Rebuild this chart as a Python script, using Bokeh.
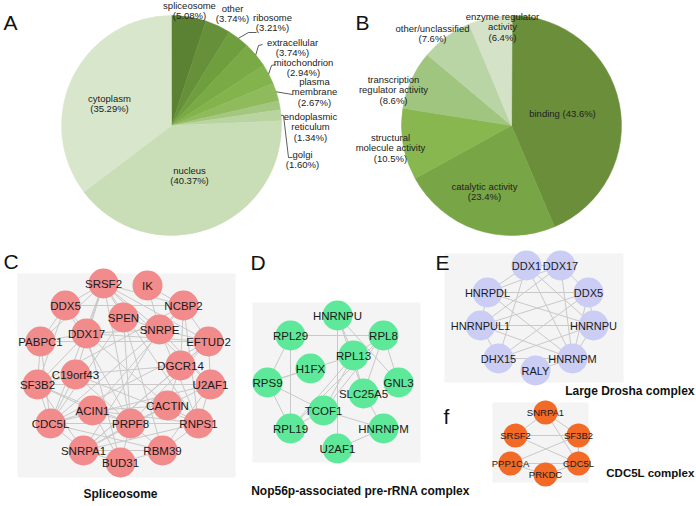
import numpy as np
from bokeh.plotting import figure
from bokeh.models import Range1d, ColumnDataSource
from bokeh.core.properties import value
from bokeh.embed import file_html
from bokeh.resources import INLINE

FONT = value("Liberation Sans")
W, H = 696, 506

# ---------------- data ----------------
# Panel A: cellular component
a_names = ["spliceosome", "other", "ribosome", "extracellular", "mitochondrion",
           "plasma membrane", "endoplasmic reticulum", "golgi", "nucleus", "cytoplasm"]
a_pct = [5.08, 3.74, 3.21, 3.74, 2.94, 2.67, 1.34, 1.60, 40.37, 35.29]
a_colors = ["#5b8233", "#66913a", "#6f9e3f", "#79aa45", "#83b34d", "#8fbb5c",
            "#a3c77f", "#b9d4a0", "#c9ddb6", "#d8e6cc"]
a_label_lines = [["spliceosome", "(5.08%)"], ["other", "(3.74%)"], ["ribosome", "(3.21%)"],
                 ["extracellular", "(3.74%)"], ["mitochondrion", "(2.94%)"],
                 ["plasma", "membrane", "(2.67%)"], ["endoplasmic", "reticulum", "(1.34%)"],
                 ["golgi", "(1.60%)"], ["nucleus", "(40.37%)"], ["cytoplasm", "(35.29%)"]]

# Panel B: molecular function
b_names = ["binding", "catalytic activity", "structural molecule activity",
           "transcription regulator activity", "other/unclassified", "enzyme regulator activity"]
b_pct = [43.6, 23.4, 10.5, 8.6, 7.6, 6.4]
b_colors = ["#6a8e3a", "#78a546", "#88b74f", "#a0c57f", "#bad5a5", "#d4e2c8"]
b_label_lines = [["binding (43.6%)"], ["catalytic activity", "(23.4%)"],
                 ["structural", "molecule activity", "(10.5%)"],
                 ["transcription", "regulator activity", "(8.6%)"],
                 ["other/unclassified", "(7.6%)"], ["enzyme regulator", "activity", "(6.4%)"]]

# Panel C: Spliceosome network (layout positions)
c_nodes = ["SRSF2", "IK", "DDX5", "NCBP2", "SPEN", "SNRPE", "DDX17", "PABPC1", "EFTUD2",
           "DGCR14", "C19orf43", "SF3B2", "U2AF1", "CACTIN", "ACIN1", "CDC5L", "PRPF8",
           "RNPS1", "SNRPA1", "RBM39", "BUD31"]
c_x = [103, 147, 65, 183, 123, 159, 86, 40, 208, 180, 75, 37, 210, 167, 92, 50, 130, 198, 83, 162, 120]
c_y = [283, 285, 305, 305, 317, 329, 333, 341, 341, 365, 374, 384, 384, 405, 410, 423, 423, 423, 450, 450, 462]
c_edges = [("SRSF2", "NCBP2"), ("SRSF2", "DDX5"), ("SRSF2", "SPEN"), ("SRSF2", "SNRPE"),
           ("SRSF2", "DDX17"), ("SRSF2", "PABPC1"), ("SRSF2", "C19orf43"), ("SRSF2", "PRPF8"),
           ("SRSF2", "RNPS1"), ("SRSF2", "U2AF1"), ("SRSF2", "EFTUD2"), ("SRSF2", "CDC5L"),
           ("IK", "NCBP2"), ("IK", "SNRPE"), ("DDX5", "NCBP2"), ("DDX5", "DDX17"),
           ("DDX5", "PABPC1"), ("DDX5", "SF3B2"), ("DDX5", "PRPF8"), ("NCBP2", "EFTUD2"),
           ("NCBP2", "SNRPE"), ("NCBP2", "DGCR14"), ("NCBP2", "SF3B2"), ("NCBP2", "ACIN1"),
           ("NCBP2", "RNPS1"), ("SPEN", "SNRPE"), ("SPEN", "PRPF8"), ("SPEN", "CDC5L"),
           ("SPEN", "RBM39"), ("SNRPE", "EFTUD2"), ("SNRPE", "DDX17"), ("SNRPE", "SNRPA1"),
           ("SNRPE", "CDC5L"), ("SNRPE", "RNPS1"), ("SNRPE", "U2AF1"), ("DDX17", "PABPC1"),
           ("DDX17", "SF3B2"), ("DDX17", "EFTUD2"), ("DDX17", "BUD31"), ("DDX17", "CACTIN"),
           ("PABPC1", "EFTUD2"), ("PABPC1", "SF3B2"), ("PABPC1", "CDC5L"), ("EFTUD2", "DGCR14"),
           ("EFTUD2", "U2AF1"), ("EFTUD2", "CDC5L"), ("EFTUD2", "SNRPA1"), ("EFTUD2", "PRPF8"),
           ("DGCR14", "C19orf43"), ("DGCR14", "CACTIN"), ("DGCR14", "SNRPA1"),
           ("C19orf43", "SF3B2"), ("C19orf43", "CDC5L"), ("C19orf43", "PRPF8"),
           ("C19orf43", "RNPS1"), ("SF3B2", "U2AF1"), ("SF3B2", "CDC5L"), ("SF3B2", "PRPF8"),
           ("SF3B2", "SNRPA1"), ("SF3B2", "ACIN1"), ("U2AF1", "RNPS1"), ("U2AF1", "CACTIN"),
           ("U2AF1", "CDC5L"), ("U2AF1", "RBM39"), ("CACTIN", "PRPF8"), ("CACTIN", "ACIN1"),
           ("CACTIN", "RNPS1"), ("CACTIN", "SNRPA1"), ("ACIN1", "PRPF8"), ("ACIN1", "RNPS1"),
           ("ACIN1", "CDC5L"), ("ACIN1", "BUD31"), ("CDC5L", "PRPF8"), ("CDC5L", "SNRPA1"),
           ("CDC5L", "RNPS1"), ("CDC5L", "RBM39"), ("PRPF8", "RNPS1"), ("PRPF8", "SNRPA1"),
           ("PRPF8", "BUD31"), ("PRPF8", "RBM39"), ("RNPS1", "RBM39"), ("RNPS1", "SNRPA1"),
           ("SNRPA1", "BUD31"), ("SNRPA1", "RBM39"), ("BUD31", "RBM39")]

# Panel D: Nop56p-associated pre-rRNA complex
d_nodes = ["HNRNPU", "RPL29", "RPL8", "RPL13", "H1FX", "RPS9", "GNL3", "SLC25A5",
           "TCOF1", "RPL19", "HNRNPM", "U2AF1"]
d_x = [337, 290, 383, 353, 310, 267, 398, 363, 323, 290, 383, 337]
d_y = [315, 335, 335, 355, 368, 382, 382, 393, 410, 428, 428, 448]
d_edges = [("HNRNPU", "RPL13"), ("HNRNPU", "SLC25A5"), ("HNRNPU", "U2AF1"), ("HNRNPU", "GNL3"),
           ("RPL29", "RPL8"), ("RPL29", "RPS9"), ("RPL29", "RPL19"), ("RPL8", "RPL13"),
           ("RPL8", "GNL3"), ("RPL8", "SLC25A5"), ("RPL8", "TCOF1"), ("RPL13", "RPS9"),
           ("RPL13", "TCOF1"), ("RPL13", "RPL19"), ("RPL13", "SLC25A5"), ("RPS9", "TCOF1"),
           ("RPS9", "RPL19"), ("RPS9", "H1FX"), ("TCOF1", "HNRNPM"), ("TCOF1", "RPL19"),
           ("SLC25A5", "HNRNPM"), ("HNRNPM", "U2AF1"), ("RPL19", "RPL8")]

# Panel E: Large Drosha complex
e_nodes = ["DDX1", "DDX17", "HNRPDL", "DDX5", "HNRNPUL1", "HNRNPU", "DHX15", "HNRNPM", "RALY"]
e_x = [526, 560, 487, 588, 480, 593, 498, 572, 535]
e_y = [265, 265, 292, 292, 325, 325, 358, 358, 370]
e_edges = [("DDX1", "DDX17"), ("DDX1", "HNRPDL"), ("DDX1", "DHX15"), ("DDX1", "HNRNPM"),
           ("DDX1", "HNRNPU"), ("DDX17", "DDX5"), ("DDX17", "HNRPDL"), ("DDX17", "HNRNPUL1"),
           ("DDX17", "HNRNPM"), ("HNRPDL", "DDX5"), ("HNRPDL", "HNRNPUL1"), ("HNRPDL", "HNRNPU"),
           ("HNRPDL", "HNRNPM"), ("DDX5", "HNRNPU"), ("DDX5", "HNRNPUL1"), ("DDX5", "DHX15"),
           ("DDX5", "HNRNPM"), ("HNRNPUL1", "HNRNPU"), ("HNRNPUL1", "DHX15"),
           ("HNRNPUL1", "HNRNPM"), ("HNRNPU", "HNRNPM"), ("HNRNPU", "DHX15"),
           ("DHX15", "HNRNPM"), ("HNRNPM", "RALY")]

# Panel f: CDC5L complex
f_nodes = ["SNRPA1", "SRSF2", "SF3B2", "PPP1CA", "CDC5L", "PRKDC"]
f_x = [545, 515, 578, 510, 578, 545]
f_y = [412, 435, 435, 463, 463, 474]
f_edges = [("SNRPA1", "SRSF2"), ("SNRPA1", "SF3B2"), ("SNRPA1", "CDC5L"), ("SRSF2", "SF3B2"),
           ("SRSF2", "CDC5L"), ("SF3B2", "CDC5L"), ("SF3B2", "PPP1CA"), ("PPP1CA", "CDC5L"),
           ("PRKDC", "CDC5L"), ("PRKDC", "PPP1CA")]

# ---------------- figure ----------------
p = figure(width=W, height=H, x_range=Range1d(0, W), y_range=Range1d(0, H),
           output_backend="svg", toolbar_location=None, min_border=0)
p.axis.visible = False
p.grid.visible = False
p.outline_line_color = None
p.background_fill_color = "white"


def fy(y):
    return H - np.asarray(y, dtype=float)


def txt(x, y, s, size="9px", style="normal", align="center", color="#222222", base="middle"):
    p.text(x=[x], y=[fy(y)], text=[s], text_font=FONT, text_font_size=size,
           text_font_style=style, text_align=align, text_baseline=base, text_color=color)


def pie(cx, cy, r, pct, colors):
    frac = np.cumsum([0] + list(pct)) / 100.0
    start = np.pi / 2 - 2 * np.pi * frac[1:]
    end = np.pi / 2 - 2 * np.pi * frac[:-1]
    src = ColumnDataSource(dict(x=[cx] * len(pct), y=[fy(cy)] * len(pct),
                                s=start, e=end, c=colors))
    p.wedge(x="x", y="y", radius=r, start_angle="s", end_angle="e",
            fill_color="c", line_color="c", line_width=0.5, source=src)
    mids = 2 * np.pi * (frac[:-1] + frac[1:]) / 2
    return mids


def multiline_label(x, y, lines, size="9.5px", lh=10.5):
    n = len(lines)
    for i, ln in enumerate(lines):
        txt(x, y + (i - (n - 1) / 2) * lh, ln, size=size)


# Pie A
acx, acy, ar = 171, 125, 110
amids = pie(acx, acy, ar, a_pct, a_colors)
a_label_pos = [(189, 10), (232, 13), (272, 22), (292, 47), (303, 67), (314, 91),
               (310, 126), (302, 159), (189, 175), (109, 103)]
for (lx, ly), lines in zip(a_label_pos, a_label_lines):
    multiline_label(lx, ly, lines)

# leader lines for A (from slice mid-angle at pie edge to label)
leader_via = {2: [(248, 32), (256, 32)], 3: [(258, 45), (262, 44)], 4: [(271, 65), (275, 64)],
              5: [(292, 94)], 7: [(283, 115), (288, 157), (292, 157)]}
lxs, lys = [], []
for i, via in leader_via.items():
    x0 = acx + ar * np.sin(amids[i])
    y0 = acy - ar * np.cos(amids[i])
    xs = [x0] + [v[0] for v in via]
    ys = [y0] + [v[1] for v in via]
    lxs.append(xs)
    lys.append(list(fy(ys)))
p.multi_line(xs=lxs, ys=lys, line_color="#333333", line_width=0.8)

# Pie B
bcx, bcy, br = 511, 125, 110
pie(bcx, bcy, br, b_pct, b_colors)
b_label_pos = [(562, 113), (484, 191), (390, 147), (393, 89), (432, 33), (502, 26)]
for (lx, ly), lines in zip(b_label_pos, b_label_lines):
    multiline_label(lx, ly, lines)


# ---------------- networks ----------------
def network(box, names, xs, ys, edges, color, r, fsize):
    x0, y0, x1, y1 = box
    p.quad(left=[x0], right=[x1], top=[fy(y0)], bottom=[fy(y1)],
           fill_color="#f4f4f4", line_color=None)
    idx = {n: i for i, n in enumerate(names)}
    ex0 = [xs[idx[a]] for a, b in edges]
    ex1 = [xs[idx[b]] for a, b in edges]
    ey0 = fy([ys[idx[a]] for a, b in edges])
    ey1 = fy([ys[idx[b]] for a, b in edges])
    p.segment(x0=ex0, y0=ey0, x1=ex1, y1=ey1, line_color="#c9c9c9", line_width=1)
    p.scatter(x=xs, y=fy(ys), size=2 * r, marker="circle", fill_color=color, line_color=None)
    p.text(x=xs, y=fy(ys), text=names, text_font=FONT, text_font_size=fsize,
           text_align="center", text_baseline="middle", text_color="#1a1a1a")


network((17, 273, 235, 477), c_nodes, c_x, c_y, c_edges, "#f28b8b", 15, "11.5px")
network((252, 302, 420, 462), d_nodes, d_x, d_y, d_edges, "#5ee89a", 15, "11.5px")
network((444, 253, 623, 382), e_nodes, e_x, e_y, e_edges, "#cccdf5", 15, "11px")
network((492, 402, 588, 482), f_nodes, f_x, f_y, f_edges, "#f26a26", 12, "9.5px")

# titles
txt(120, 493, "Spliceosome", size="12px", style="bold", color="#111111")
txt(360, 490, "Nop56p-associated pre-rRNA complex", size="12px", style="bold", color="#111111")
txt(694, 390, "Large Drosha complex", size="12px", style="bold", color="#111111", align="right")
txt(694, 472, "CDC5L complex", size="11.5px", style="bold", color="#111111", align="right")

# Panel letters
for (lx, ly, s) in [(3, 22, "A"), (355, 22, "B"), (3, 261, "C"), (250, 262, "D"),
                    (435, 262, "E"), (443, 416, "f")]:
    txt(lx, ly, s, size="21px", color="#111111", align="left")

open("out.html", "w").write(file_html(p, INLINE))
